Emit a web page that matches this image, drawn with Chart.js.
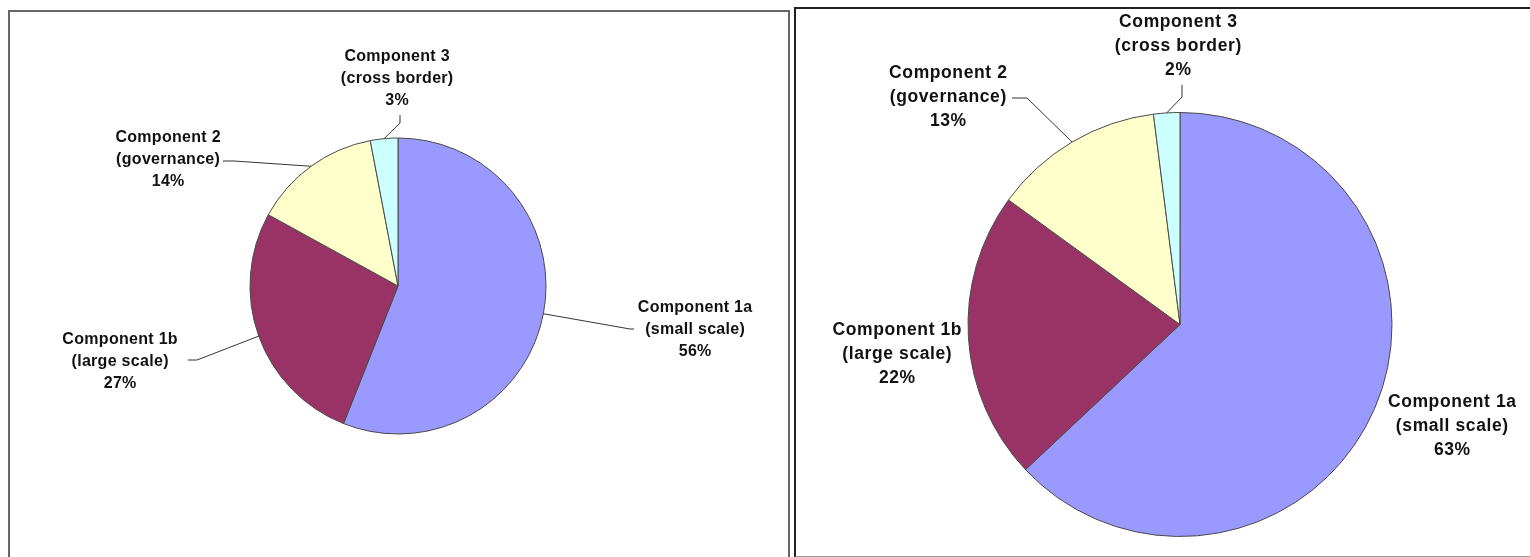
<!DOCTYPE html>
<html>
<head>
<meta charset="utf-8">
<script src="https://cdn.jsdelivr.net/npm/chart.js@4"></script>
<style>
  body { margin: 0; background: #fff; width: 1530px; height: 557px; overflow: hidden; position: relative; }
  .panel { position: absolute; box-sizing: border-box; }
  #leftPanel { left: 8px; top: 10px; width: 782px; height: 600px; border: 2px solid #666; }
  #rightPanel { left: 794px; top: 7px; width: 800px; height: 551px; border: 2px solid #222; border-bottom-color: #999; }
  canvas { position: absolute; top: 0; }
  #left { left: 0; }
  #right { left: 796px; }
</style>
</head>
<body>
<div class="panel" id="leftPanel"></div>
<div class="panel" id="rightPanel"></div>
<canvas id="left" width="796" height="557"></canvas>
<canvas id="right" width="734" height="557"></canvas>

<script>
// data
const categories = ['Component 1a', 'Component 1b', 'Component 2', 'Component 3'];
const subLabels = ['(small scale)', '(large scale)', '(governance)', '(cross border)'];
const leftValues = [56, 27, 14, 3];
const rightValues = [63, 22, 13, 2];
const sliceColors = ['#9999FF', '#993366', '#FFFFCC', '#CCFFFF'];

// label placement, relative to the pie centre (px)
const leftSpots = [
  { dx: 297, dy: 44, leader: [[232, 43], [236, 43]] },
  { dx: -278, dy: 76, leader: [[-201, 74], [-210, 74]] },
  { dx: -230, dy: -126, leader: [[-164, -125], [-175, -125]] },
  { dx: -1, dy: -207, leader: [[2, -163], [2, -171]] }
];
const rightSpots = [
  { dx: 272, dy: 102, leader: null },
  { dx: -283, dy: 30, leader: null },
  { dx: -232, dy: -227, leader: [[-153, -226.5], [-168, -226.5]] },
  { dx: -2, dy: -278, leader: [[2, -227.5], [2, -239.5]] }
];

// draws the callout labels + leader lines
const calloutPlugin = {
  id: 'callouts',
  afterDatasetsDraw(chart, args, opts) {
    const ctx = chart.ctx;
    const meta = chart.getDatasetMeta(0);
    const values = chart.data.datasets[0].data;
    ctx.save();
    meta.data.forEach((arc, i) => {
      const p = arc.getProps(['x', 'y', 'startAngle', 'endAngle', 'outerRadius'], true);
      const mid = (p.startAngle + p.endAngle) / 2;
      const spot = opts.spots[i];

      if (spot.leader) {
        ctx.strokeStyle = '#333';
        ctx.lineWidth = 1;
        ctx.beginPath();
        ctx.moveTo(p.x + Math.cos(mid) * p.outerRadius, p.y + Math.sin(mid) * p.outerRadius);
        spot.leader.forEach(pt => ctx.lineTo(p.x + pt[0], p.y + pt[1]));
        ctx.stroke();
      }

      const lines = [categories[i], subLabels[i], values[i] + '%'];
      ctx.fillStyle = '#111';
      ctx.font = 'bold ' + opts.fontSize + 'px "Liberation Sans", Arial, sans-serif';
      ctx.letterSpacing = opts.spacing + 'px';
      ctx.textAlign = 'center';
      ctx.textBaseline = 'middle';
      const cx = p.x + spot.dx;
      const cy = p.y + spot.dy;
      lines.forEach((t, k) => {
        ctx.fillText(t, cx + opts.spacing / 2, cy + (k - 1) * opts.lineHeight);
      });
    });
    ctx.restore();
  }
};

function makePie(id, values, radius, padding, spots, fontSize, spacing, lineHeight) {
  return new Chart(document.getElementById(id), {
    type: 'pie',
    data: {
      labels: categories,
      datasets: [{
        data: values,
        backgroundColor: sliceColors,
        borderColor: '#4a4a4a',
        borderWidth: 1,
        radius: radius
      }]
    },
    options: {
      responsive: false,
      devicePixelRatio: 1,
      animation: false,
      layout: { padding: padding },
      plugins: {
        legend: { display: false },
        tooltip: { enabled: false },
        callouts: { spots: spots, fontSize: fontSize, spacing: spacing, lineHeight: lineHeight }
      }
    },
    plugins: [calloutPlugin]
  });
}

makePie('left', leftValues, 148, { left: 0, right: 0, top: 15, bottom: 0 }, leftSpots, 16, 0.3, 22);
makePie('right', rightValues, 212, { left: 34, right: 0, top: 92, bottom: 0 }, rightSpots, 17.5, 0.6, 24);
</script>
</body>
</html>
